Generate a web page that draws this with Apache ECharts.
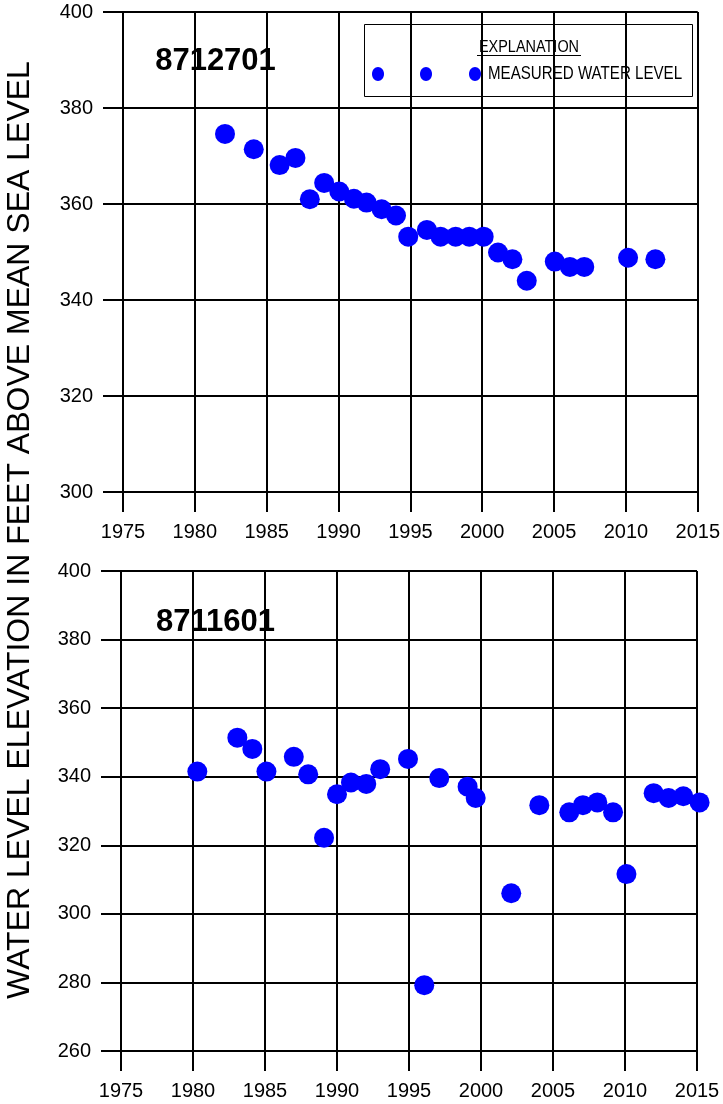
<!DOCTYPE html>
<html>
<head>
<meta charset="utf-8">
<script src="https://cdn.jsdelivr.net/npm/echarts@6/dist/echarts.min.js"></script>
<style>
html,body{margin:0;padding:0;background:#fff;}
#chart{width:723px;height:1104px;}
</style>
</head>
<body>
<div id="chart"></div>
<script>
// Well 8712701 (top panel)
const years1 = [1982.1, 1984.1, 1985.9, 1987.0, 1988.0, 1989.0, 1990.05, 1991.07, 1991.95, 1993.0, 1994.0, 1994.85, 1996.15, 1997.1, 1998.15, 1999.1, 2000.1, 2001.1, 2002.1, 2003.1, 2005.05, 2006.1, 2007.1, 2010.15, 2012.05];
const levels1 = [374.6, 371.4, 368.1, 369.6, 361.0, 364.4, 362.6, 361.1, 360.3, 358.9, 357.6, 353.2, 354.6, 353.2, 353.2, 353.2, 353.2, 349.9, 348.5, 344.0, 348.0, 346.9, 346.9, 348.8, 348.5];
// Well 8711601 (bottom panel)
const years2 = [1980.3, 1983.08, 1984.12, 1985.1, 1987.0, 1988.0, 1989.1, 1990.0, 1990.97, 1992.03, 1993.0, 1994.93, 1996.06, 1997.1, 1999.07, 1999.63, 2002.1, 2004.05, 2006.13, 2007.08, 2008.08, 2009.17, 2010.1, 2011.99, 2013.03, 2014.05, 2015.18];
const levels2 = [341.5, 351.4, 348.1, 341.5, 345.8, 340.7, 322.2, 334.9, 338.3, 337.9, 342.2, 345.2, 279.2, 339.6, 337.1, 333.8, 306.0, 331.7, 329.6, 331.7, 332.5, 329.6, 311.6, 335.2, 333.8, 334.3, 332.5];

const wellNames = ['8712701', '8711601'];
const xRange = [1975, 2015, 5];
const yRange1 = [300, 400, 20];
const yRange2 = [260, 400, 20];
const yTitle = 'WATER LEVEL ELEVATION IN FEET ABOVE MEAN SEA LEVEL';
const legendTitle = 'EXPLANATION';
const legendLabel = 'MEASURED WATER LEVEL';

const FONT = "'Liberation Sans', Arial, sans-serif";
const BLUE = '#0000ff';

function xAxisCfg(gi) {
  return {
    type: 'value', gridIndex: gi, min: xRange[0], max: xRange[1], interval: xRange[2],
    axisLine: {show: true, onZero: false, lineStyle: {color: '#000', width: 2}},
    axisTick: {show: true, inside: false, length: 20, lineStyle: {color: '#000', width: 2}},
    axisLabel: {show: true, margin: 30, fontFamily: FONT, fontSize: 20, color: '#000',
                formatter: v => String(v)},
    splitLine: {show: true, lineStyle: {color: '#000', width: 2}}
  };
}
function yAxisCfg(gi, r) {
  return {
    type: 'value', gridIndex: gi, min: r[0], max: r[1], interval: r[2],
    axisLine: {show: true, onZero: false, lineStyle: {color: '#000', width: 2}},
    axisTick: {show: true, inside: false, length: 20, lineStyle: {color: '#000', width: 2}},
    axisLabel: {show: true, margin: 30, fontFamily: FONT, fontSize: 20, color: '#000',
                formatter: v => String(v)},
    splitLine: {show: true, lineStyle: {color: '#000', width: 2}}
  };
}

function labelBox(name, x, y, w, h) {
  return {
    type: 'group', z: 100,
    children: [
      {type: 'rect', shape: {x: x, y: y, width: w, height: h}, style: {fill: '#fff'}},
      {type: 'text', x: x + w / 2 - 1, y: y + h / 2 + 1,
       style: {text: name, font: 'bold 31px ' + FONT, fill: '#000', align: 'center', verticalAlign: 'middle'}}
    ]
  };
}

const chart = echarts.init(document.getElementById('chart'), null, {renderer: 'canvas'});
chart.setOption({
  animation: false,
  backgroundColor: '#fff',
  grid: [
    {left: 123, top: 12, width: 575, height: 480},
    {left: 121, top: 571, width: 576, height: 480}
  ],
  xAxis: [xAxisCfg(0), xAxisCfg(1)],
  yAxis: [yAxisCfg(0, yRange1), yAxisCfg(1, yRange2)],
  series: [
    {type: 'scatter', xAxisIndex: 0, yAxisIndex: 0, symbol: 'circle', symbolSize: 20, clip: false, z: 5,
     itemStyle: {color: BLUE, opacity: 1},
     data: years1.map((y, i) => [y, levels1[i]])},
    {type: 'scatter', xAxisIndex: 1, yAxisIndex: 1, symbol: 'circle', symbolSize: 20, clip: false, z: 5,
     itemStyle: {color: BLUE, opacity: 1},
     data: years2.map((y, i) => [y, levels2[i]])}
  ],
  graphic: [
    {type: 'text', x: 20, y: 530, rotation: Math.PI / 2, z: 100,
     style: {text: yTitle, font: '32px ' + FONT, fill: '#000', align: 'center', verticalAlign: 'middle'}},
    labelBox(wellNames[0], 135, 23, 163, 74),
    labelBox(wellNames[1], 135, 583, 163, 76),
    {type: 'group', z: 100, children: [
      {type: 'rect', shape: {x: 364.5, y: 24.5, width: 328, height: 72}, style: {fill: '#fff', stroke: '#000', lineWidth: 1}},
      {type: 'text', x: 529, y: 47, scaleX: 0.85, scaleY: 1,
       style: {text: legendTitle, font: '17px ' + FONT, fill: '#000', align: 'center', verticalAlign: 'middle'}},
      {type: 'line', shape: {x1: 477, y1: 55.5, x2: 581, y2: 55.5}, style: {stroke: '#000', lineWidth: 1}},
      {type: 'ellipse', shape: {cx: 378, cy: 74, rx: 6, ry: 7}, style: {fill: BLUE}},
      {type: 'ellipse', shape: {cx: 426, cy: 74, rx: 6, ry: 7}, style: {fill: BLUE}},
      {type: 'ellipse', shape: {cx: 475, cy: 74, rx: 6, ry: 7}, style: {fill: BLUE}},
      {type: 'text', x: 488, y: 74, scaleX: 0.84, scaleY: 1,
       style: {text: legendLabel, font: '18px ' + FONT, fill: '#000', align: 'left', verticalAlign: 'middle'}}
    ]}
  ]
});
</script>
</body>
</html>
